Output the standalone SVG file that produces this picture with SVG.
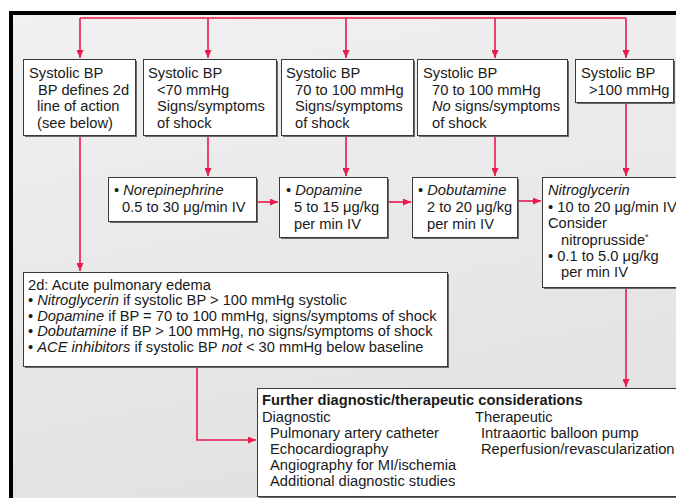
<svg xmlns="http://www.w3.org/2000/svg" width="676" height="498" viewBox="0 0 676 498">
  <defs>
    <linearGradient id="bg" x1="0" y1="0" x2="0.25" y2="1">
      <stop offset="0" stop-color="#f1f1f1"/>
      <stop offset="1" stop-color="#e2e2e2"/>
    </linearGradient>
    <marker id="arrow" viewBox="0 0 8 7" refX="8" refY="3.5" markerWidth="8" markerHeight="7" markerUnits="userSpaceOnUse" orient="auto">
      <path d="M0,0 L8,3.5 L0,7 Z" fill="#ea1a4c"/>
    </marker>
  </defs>
  <style>
    .box { fill: #ffffff; stroke: #3a3a3a; stroke-width: 1; }
    .shadow { fill: #6a6a6a; }
    .t { font-family: "Liberation Sans", Arial, Helvetica, sans-serif; font-size: 14.7px; fill: #1a1a1a; }
    .i { font-style: italic; }
    .b { font-weight: bold; }
    .wire { fill: none; stroke: #ea1a4c; stroke-width: 1.6; }
    .wa { marker-end: url(#arrow); }
  </style>

  <!-- page -->
  <rect x="0" y="0" width="676" height="498" fill="#ffffff"/>
  <rect x="9" y="11" width="667" height="487" fill="url(#bg)"/>
  <rect x="9" y="11" width="667" height="4" fill="#000000"/>
  <rect x="9" y="11" width="4" height="487" fill="#000000"/>

  <!-- connectors -->
  <g id="connectors">
    <path class="wire" d="M80,18 H626"/>
    <path class="wire wa" d="M80,18 V58"/>
    <path class="wire wa" d="M208,18 V58"/>
    <path class="wire wa" d="M346,18 V58"/>
    <path class="wire wa" d="M495,18 V58"/>
    <path class="wire wa" d="M626,18 V58"/>
    <path class="wire wa" d="M80,136 V271"/>
    <path class="wire wa" d="M208,136 V176"/>
    <path class="wire wa" d="M346,136 V176"/>
    <path class="wire wa" d="M495,136 V176"/>
    <path class="wire wa" d="M626,103 V176"/>
    <path class="wire wa" d="M257,202 H278"/>
    <path class="wire wa" d="M388,202 H411"/>
    <path class="wire wa" d="M518,201 H541"/>
    <path class="wire wa" d="M626,288 V387"/>
    <path class="wire wa" d="M197,367 V440 H256"/>
  </g>

  <g id="sbp-defines">
    <rect class="shadow" x="25" y="61" width="112" height="76"/>
    <rect class="box" x="23.5" y="59.5" width="112" height="76"/>
    <text class="t" x="29" y="78">Systolic BP</text>
    <text class="t" x="38" y="94.5">BP defines 2d</text>
    <text class="t" x="37" y="111">line of action</text>
    <text class="t" x="37" y="127.5">(see below)</text>
  </g>

  <g id="sbp-under-70">
    <rect class="shadow" x="145" y="61" width="133" height="76"/>
    <rect class="box" x="143.5" y="59.5" width="133" height="76"/>
    <text class="t" x="148" y="78">Systolic BP</text>
    <text class="t" x="157" y="94.5">&lt;70 mmHg</text>
    <text class="t" x="157" y="111">Signs/symptoms</text>
    <text class="t" x="157" y="127.5">of shock</text>
  </g>

  <g id="sbp-70-100-shock">
    <rect class="shadow" x="283" y="61" width="132" height="76"/>
    <rect class="box" x="281.5" y="59.5" width="132" height="76"/>
    <text class="t" x="286" y="78">Systolic BP</text>
    <text class="t" x="295" y="94.5">70 to 100 mmHg</text>
    <text class="t" x="295" y="111">Signs/symptoms</text>
    <text class="t" x="295" y="127.5">of shock</text>
  </g>

  <g id="sbp-70-100-no-shock">
    <rect class="shadow" x="419" y="61" width="150" height="76"/>
    <rect class="box" x="417.5" y="59.5" width="150" height="76"/>
    <text class="t" x="423" y="78">Systolic BP</text>
    <text class="t" x="432" y="94.5">70 to 100 mmHg</text>
    <text class="t" x="432" y="111"><tspan class="i">No</tspan> signs/symptoms</text>
    <text class="t" x="432" y="127.5">of shock</text>
  </g>

  <g id="sbp-over-100">
    <rect class="shadow" x="577" y="61" width="98" height="43"/>
    <rect class="box" x="575.5" y="59.5" width="98" height="43"/>
    <text class="t" x="581" y="78">Systolic BP</text>
    <text class="t" x="589" y="94.5">&gt;100 mmHg</text>
  </g>

  <g id="norepinephrine">
    <rect class="shadow" x="110" y="179" width="148" height="44"/>
    <rect class="box" x="108.5" y="177.5" width="148" height="44"/>
    <text class="t" x="114" y="195">• <tspan class="i">Norepinephrine</tspan></text>
    <text class="t" x="122" y="212">0.5 to 30 μg/min IV</text>
  </g>

  <g id="dopamine">
    <rect class="shadow" x="281" y="179" width="108" height="60"/>
    <rect class="box" x="279.5" y="177.5" width="108" height="60"/>
    <text class="t" x="286" y="195">• <tspan class="i">Dopamine</tspan></text>
    <text class="t" x="294" y="212">5 to 15 μg/kg</text>
    <text class="t" x="294" y="228.5">per min IV</text>
  </g>

  <g id="dobutamine">
    <rect class="shadow" x="414" y="179" width="105" height="60"/>
    <rect class="box" x="412.5" y="177.5" width="105" height="60"/>
    <text class="t" x="418" y="195">• <tspan class="i">Dobutamine</tspan></text>
    <text class="t" x="427" y="212">2 to 20 μg/kg</text>
    <text class="t" x="427" y="228.5">per min IV</text>
  </g>

  <g id="nitroglycerin">
    <rect class="shadow" x="544" y="179" width="140" height="110"/>
    <rect class="box" x="542.5" y="177.5" width="140" height="110"/>
    <text class="t i" x="548" y="195">Nitroglycerin</text>
    <text class="t" x="548" y="212">• 10 to 20 μg/min IV</text>
    <text class="t" x="548" y="228">Consider</text>
    <text class="t" x="561" y="244.5">nitroprusside<tspan font-size="9" dy="-5">*</tspan></text>
    <text class="t" x="548" y="261">• 0.1 to 5.0 μg/kg</text>
    <text class="t" x="561" y="277">per min IV</text>
  </g>

  <g id="pulmonary-edema">
    <rect class="shadow" x="25" y="274" width="424" height="94"/>
    <rect class="box" x="23.5" y="272.5" width="424" height="94"/>
    <text class="t" x="28" y="289.5">2d: Acute pulmonary edema</text>
    <text class="t" x="28" y="305">• <tspan class="i">Nitroglycerin</tspan> if systolic BP &gt; 100 mmHg systolic</text>
    <text class="t" x="28" y="320.5">• <tspan class="i">Dopamine</tspan> if BP = 70 to 100 mmHg, signs/symptoms of shock</text>
    <text class="t" x="28" y="336">• <tspan class="i">Dobutamine</tspan> if BP &gt; 100 mmHg, no signs/symptoms of shock</text>
    <text class="t" x="28" y="351.5">• <tspan class="i">ACE inhibitors</tspan> if systolic BP <tspan class="i">not</tspan> &lt; 30 mmHg below baseline</text>
  </g>

  <g id="further-considerations">
    <rect class="shadow" x="259" y="390" width="425" height="109"/>
    <rect class="box" x="257.5" y="388.5" width="425" height="108"/>
    <text class="t b" x="262" y="405">Further diagnostic/therapeutic considerations</text>
    <text class="t" x="262" y="421.5">Diagnostic</text>
    <text class="t" x="270" y="437.5">Pulmonary artery catheter</text>
    <text class="t" x="270" y="453.5">Echocardiography</text>
    <text class="t" x="270" y="470">Angiography for MI/ischemia</text>
    <text class="t" x="270" y="486">Additional diagnostic studies</text>
    <text class="t" x="475" y="421.5">Therapeutic</text>
    <text class="t" x="481" y="437.5">Intraaortic balloon pump</text>
    <text class="t" x="481" y="453.5">Reperfusion/revascularization</text>
  </g>
</svg>
